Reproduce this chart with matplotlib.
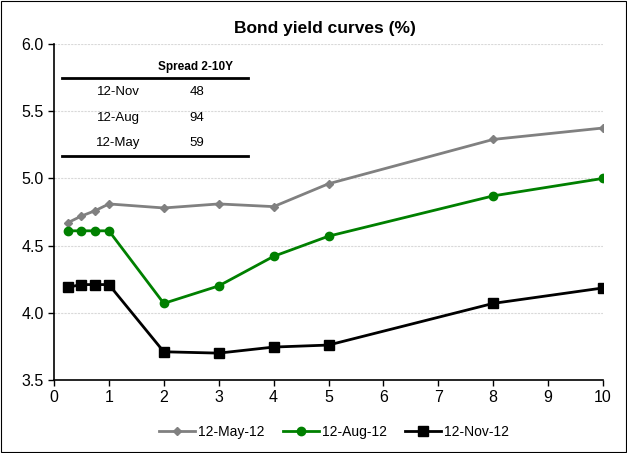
import matplotlib.pyplot as plt
from matplotlib.lines import Line2D

plt.rcParams['font.family'] = ['Liberation Sans', 'DejaVu Sans']

# maturities in years
maturity = [0.25, 0.5, 0.75, 1, 2, 3, 4, 5, 8, 10]

# yield curves
may12 = [4.67, 4.72, 4.76, 4.81, 4.78, 4.81, 4.79, 4.96, 5.29, 5.375]
aug12 = [4.61, 4.61, 4.61, 4.61, 4.07, 4.20, 4.42, 4.57, 4.87, 5.00]
nov12 = [4.19, 4.21, 4.21, 4.21, 3.71, 3.70, 3.745, 3.76, 4.07, 4.185]

# spread table
spread_dates = ['12-Nov', '12-Aug', '12-May']
spread_vals = [48, 94, 59]

fig = plt.figure(figsize=(6.27, 4.53), dpi=100)
ax = fig.add_axes([54/627, 1 - 380/453, (603-54)/627, (380-44)/453])

ax.plot(maturity, may12, color='#808080', marker='D', markersize=4, lw=2, label='12-May-12')
ax.plot(maturity, aug12, color='#008000', marker='o', markersize=6, lw=2, label='12-Aug-12')
ax.plot(maturity, nov12, color='black', marker='s', markersize=6.5, lw=2, label='12-Nov-12')

ax.set_xlim(0, 10)
ax.set_ylim(3.5, 6.0)
ax.set_xticks(range(0, 11))
ax.set_yticks([3.5, 4.0, 4.5, 5.0, 5.5, 6.0])
ax.set_yticklabels(['3.5', '4.0', '4.5', '5.0', '5.5', '6.0'])
ax.tick_params(direction='out', length=4, labelsize=11.5, width=1)
ax.yaxis.grid(True, color='#d9d9d9', lw=0.8, ls=(0, (2, 1)))
ax.set_axisbelow(True)
for s in ['top', 'right']:
    ax.spines[s].set_visible(False)
ax.spines['left'].set_linewidth(1.2)
ax.spines['bottom'].set_linewidth(1.2)

fig.text(325/627, 1 - 28/453, 'Bond yield curves (%)', ha='center', va='center',
         fontsize=12.5, fontweight='bold')

# spread table inside the plot
fig.text(195/627, 1 - 67/453, 'Spread 2-10Y', ha='center', va='center', fontsize=8.5, fontweight='bold')
fig.add_artist(Line2D([62/627, 248/627], [1 - 78/453, 1 - 78/453], color='black', lw=2))
fig.add_artist(Line2D([62/627, 248/627], [1 - 156/453, 1 - 156/453], color='black', lw=2))
row_y = [92, 118, 143]
for d, v, yy in zip(spread_dates, spread_vals, row_y):
    fig.text(118/627, 1 - yy/453, d, ha='center', va='center', fontsize=9.5)
    fig.text(197/627, 1 - yy/453, str(v), ha='center', va='center', fontsize=9.5)

fig.legend(loc='center', bbox_to_anchor=(334/627, 1 - 432/453), ncol=3, frameon=False,
           fontsize=10, handlelength=2.6, columnspacing=1.3, handletextpad=0.2)

# outer border
fig.add_artist(plt.Rectangle((0.002, 0.002), 0.996, 0.996, transform=fig.transFigure,
                             fill=False, edgecolor='black', lw=0.8))

fig.savefig('out.png', dpi=100)
